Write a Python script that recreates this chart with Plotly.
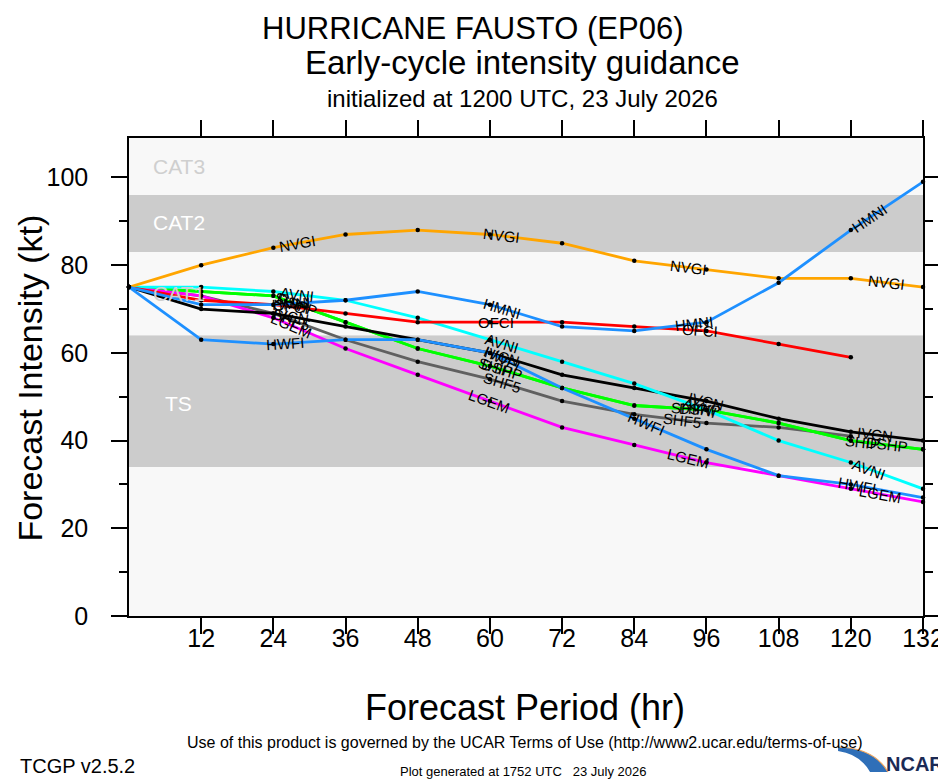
import math
import plotly.graph_objects as go

# forecast hours and intensities (kt)
hours = [0, 12, 24, 36, 48, 60, 72, 84, 96, 108, 120, 132]

nvgi = [75, 80, 84, 87, 88, 87, 85, 81, 79, 77, 77, 75]
hmni = [75, 71, 71, 72, 74, 71, 66, 65, 67, 76, 88, 99]
ofci = [75, 72, 71, 69, 67, 67, 67, 66, 65, 62, 59]
avni = [75, 75, 74, 72, 68, 63, 58, 53, 47, 40, 35, 29]
ivcn = [75, 70, 69, 66, 63, 60, 55, 52, 49, 45, 42, 40]
ship = [75, 74, 73, 67, 61, 57, 52, 48, 47, 44, 40, 38]
dshp = [75, 74, 73, 67, 61, 57, 52, 48, 47, 44, 40, 38]
shf5 = [75, 73, 69, 63, 58, 54, 49, 46, 44, 43, 41]
hwfi = [75, 63, 62, 63, 63, 60, 52, 45, 38, 32, 30, 27]
lgem = [75, 73, 68, 61, 55, 49, 43, 39, 35, 32, 29, 26]

# hours where the model ids are written on the lines
label_hours = {
    "NVGI": [28, 62, 93, 126],
    "HMNI": [27, 62, 94, 123],
    "OFCI": [27, 61, 95],
    "AVNI": [28, 62, 95, 123],
    "IVCN": [27, 62, 96, 124],
    "SHIP": [27, 61, 93, 122],
    "DSHP": [28, 62, 95, 126],
    "SHF5": [27, 62, 92],
    "HWFI": [26, 62, 86, 121],
    "LGEM": [27, 60, 93, 125],
}

# intensity category bands
band_names = ["TS", "CAT1", "CAT2", "CAT3"]
band_lo = [34, 64, 83, 96]
band_hi = [64, 83, 96, 109]
band_fill = ["#cccccc", "#f8f8f8", "#cccccc", "#f8f8f8"]
band_text = ["white", "#cfcfcf", "white", "#cfcfcf"]
band_label_y = [48.5, 73.5, 89.7, 102.4]

models = [
    ("SHF5", shf5, "#606060"),
    ("SHIP", ship, "#00ff00"),
    ("DSHP", dshp, "#00ff00"),
    ("LGEM", lgem, "#ff00ff"),
    ("IVCN", ivcn, "black"),
    ("AVNI", avni, "#00ffff"),
    ("OFCI", ofci, "#ff0000"),
    ("NVGI", nvgi, "#ffa500"),
    ("HWFI", hwfi, "#1e90ff"),
    ("HMNI", hmni, "#1e90ff"),
]

FONT = "Liberation Sans, Arial, sans-serif"
OFF = 8  # page body margin, so positions below are given in page pixels
W, H = 946 - OFF, 780 - OFF
L, R, T, B = 128.5, 923, 138, 616
xmax, ymax = 132, 109
kx = (R - L) / xmax
ky = (B - T) / ymax


def px(x):
    return (x - L) / (R - L)


def py(y):
    return (B - y) / (B - T)


def interp(vals, h):
    i = min(int(h // 12), len(vals) - 2)
    f = (h - hours[i]) / 12
    v = vals[i] + f * (vals[i + 1] - vals[i])
    slope = (vals[i + 1] - vals[i]) / 12
    return v, slope


fig = go.Figure()

for name, vals, color in models:
    fig.add_trace(go.Scatter(
        x=hours[:len(vals)], y=vals, mode="lines+markers", name=name,
        line=dict(color=color, width=2.8),
        marker=dict(color="black", size=4.5),
        showlegend=False, cliponaxis=False,
    ))

annotations = []
for name, vals, color in models:
    for h in label_hours[name]:
        v, s = interp(vals, h)
        ang = -math.degrees(math.atan(s * ky / kx))
        annotations.append(dict(
            x=h, y=v, text=name, showarrow=False, textangle=ang,
            font=dict(family=FONT, size=15, color="black"),
        ))

shapes = []
for lo, hi, c in zip(band_lo, band_hi, band_fill):
    shapes.append(dict(type="rect", xref="paper", x0=0, x1=1, y0=lo, y1=hi,
                       fillcolor=c, line=dict(width=0), layer="below"))

for nm, yy, tc in zip(band_names, band_label_y, band_text):
    xx = 5.6 if nm == "TS" else 3.6
    annotations.append(dict(x=xx, y=yy, text=nm, showarrow=False, xanchor="left",
                            font=dict(family=FONT, size=21, color=tc)))


# titles and footer text, placed by page pixel
def ptext(text, x, y, size, anchor="center", color="black", angle=0, weight=None):
    f = dict(family=FONT, size=size, color=color)
    if weight:
        f["weight"] = weight
    annotations.append(dict(xref="paper", yref="paper", x=px(x), y=py(y), text=text,
                            showarrow=False, xanchor=anchor, yanchor="middle",
                            textangle=angle, font=f, borderpad=0))


ptext("HURRICANE FAUSTO (EP06)", 472, 28, 31)
ptext("Early-cycle intensity guidance", 522, 63, 33)
ptext("initialized at 1200 UTC, 23 July 2026", 522, 98, 24)
ptext("Forecast Period (hr)", 525, 707, 36)
ptext("Forecast Intensity (kt)", 29, 378, 34, angle=-90)
ptext("Use of this product is governed by the UCAR Terms of Use (http://www2.ucar.edu/terms-of-use)",
      525, 742, 16)
ptext("TCGP v2.5.2", 18, 766, 20, anchor="left")
ptext("Plot generated at 1752 UTC&nbsp;&nbsp;&nbsp;23 July 2026", 523, 771, 13)
ptext("NCAR", 945, 764, 20, anchor="right", color="#1b2a55", weight="bold")

# blue swoosh of the NCAR logo with its orange rim
shapes.append(dict(type="path", xref="paper", yref="paper",
                   path="M %f %f Q %f %f %f %f L %f %f Q %f %f %f %f Z" % (
                       px(838), py(747), px(874), py(748), px(888), py(772),
                       px(870), py(772), px(860), py(754), px(838), py(751)),
                   fillcolor="#2f6fb8", line=dict(width=0)))
shapes.append(dict(type="path", xref="paper", yref="paper",
                   path="M %f %f Q %f %f %f %f" % (
                       px(838), py(747), px(874), py(748), px(888), py(772)),
                   line=dict(color="#f0a860", width=1.2)))

fig.update_layout(
    width=W, height=H,
    margin=dict(l=L - OFF, r=W - (R - OFF), t=T - OFF, b=H - (B - OFF)),
    paper_bgcolor="white",
    plot_bgcolor="#f8f8f8",
    font=dict(family=FONT, color="black"),
    shapes=shapes,
    annotations=annotations,
)
fig.update_xaxes(
    range=[0, xmax], tickvals=hours[1:], showgrid=False, zeroline=False,
    showline=True, linecolor="black", linewidth=1.5, mirror="allticks",
    ticks="outside", ticklen=16, tickwidth=1.5, tickcolor="black",
    tickfont=dict(size=25), ticklabelstandoff=-17, automargin=False,
)
fig.update_yaxes(
    range=[0, ymax], tickvals=[0, 20, 40, 60, 80, 100], showgrid=False, zeroline=False,
    showline=True, linecolor="black", linewidth=1.5, mirror="allticks",
    ticks="outside", ticklen=16, tickwidth=1.5, tickcolor="black",
    tickfont=dict(size=25), ticklabelstandoff=18, automargin=False,
    minor=dict(dtick=10, ticks="outside", ticklen=8, tickwidth=1.5, tickcolor="black",
               showgrid=False),
)

fig.write_html("out.html")
